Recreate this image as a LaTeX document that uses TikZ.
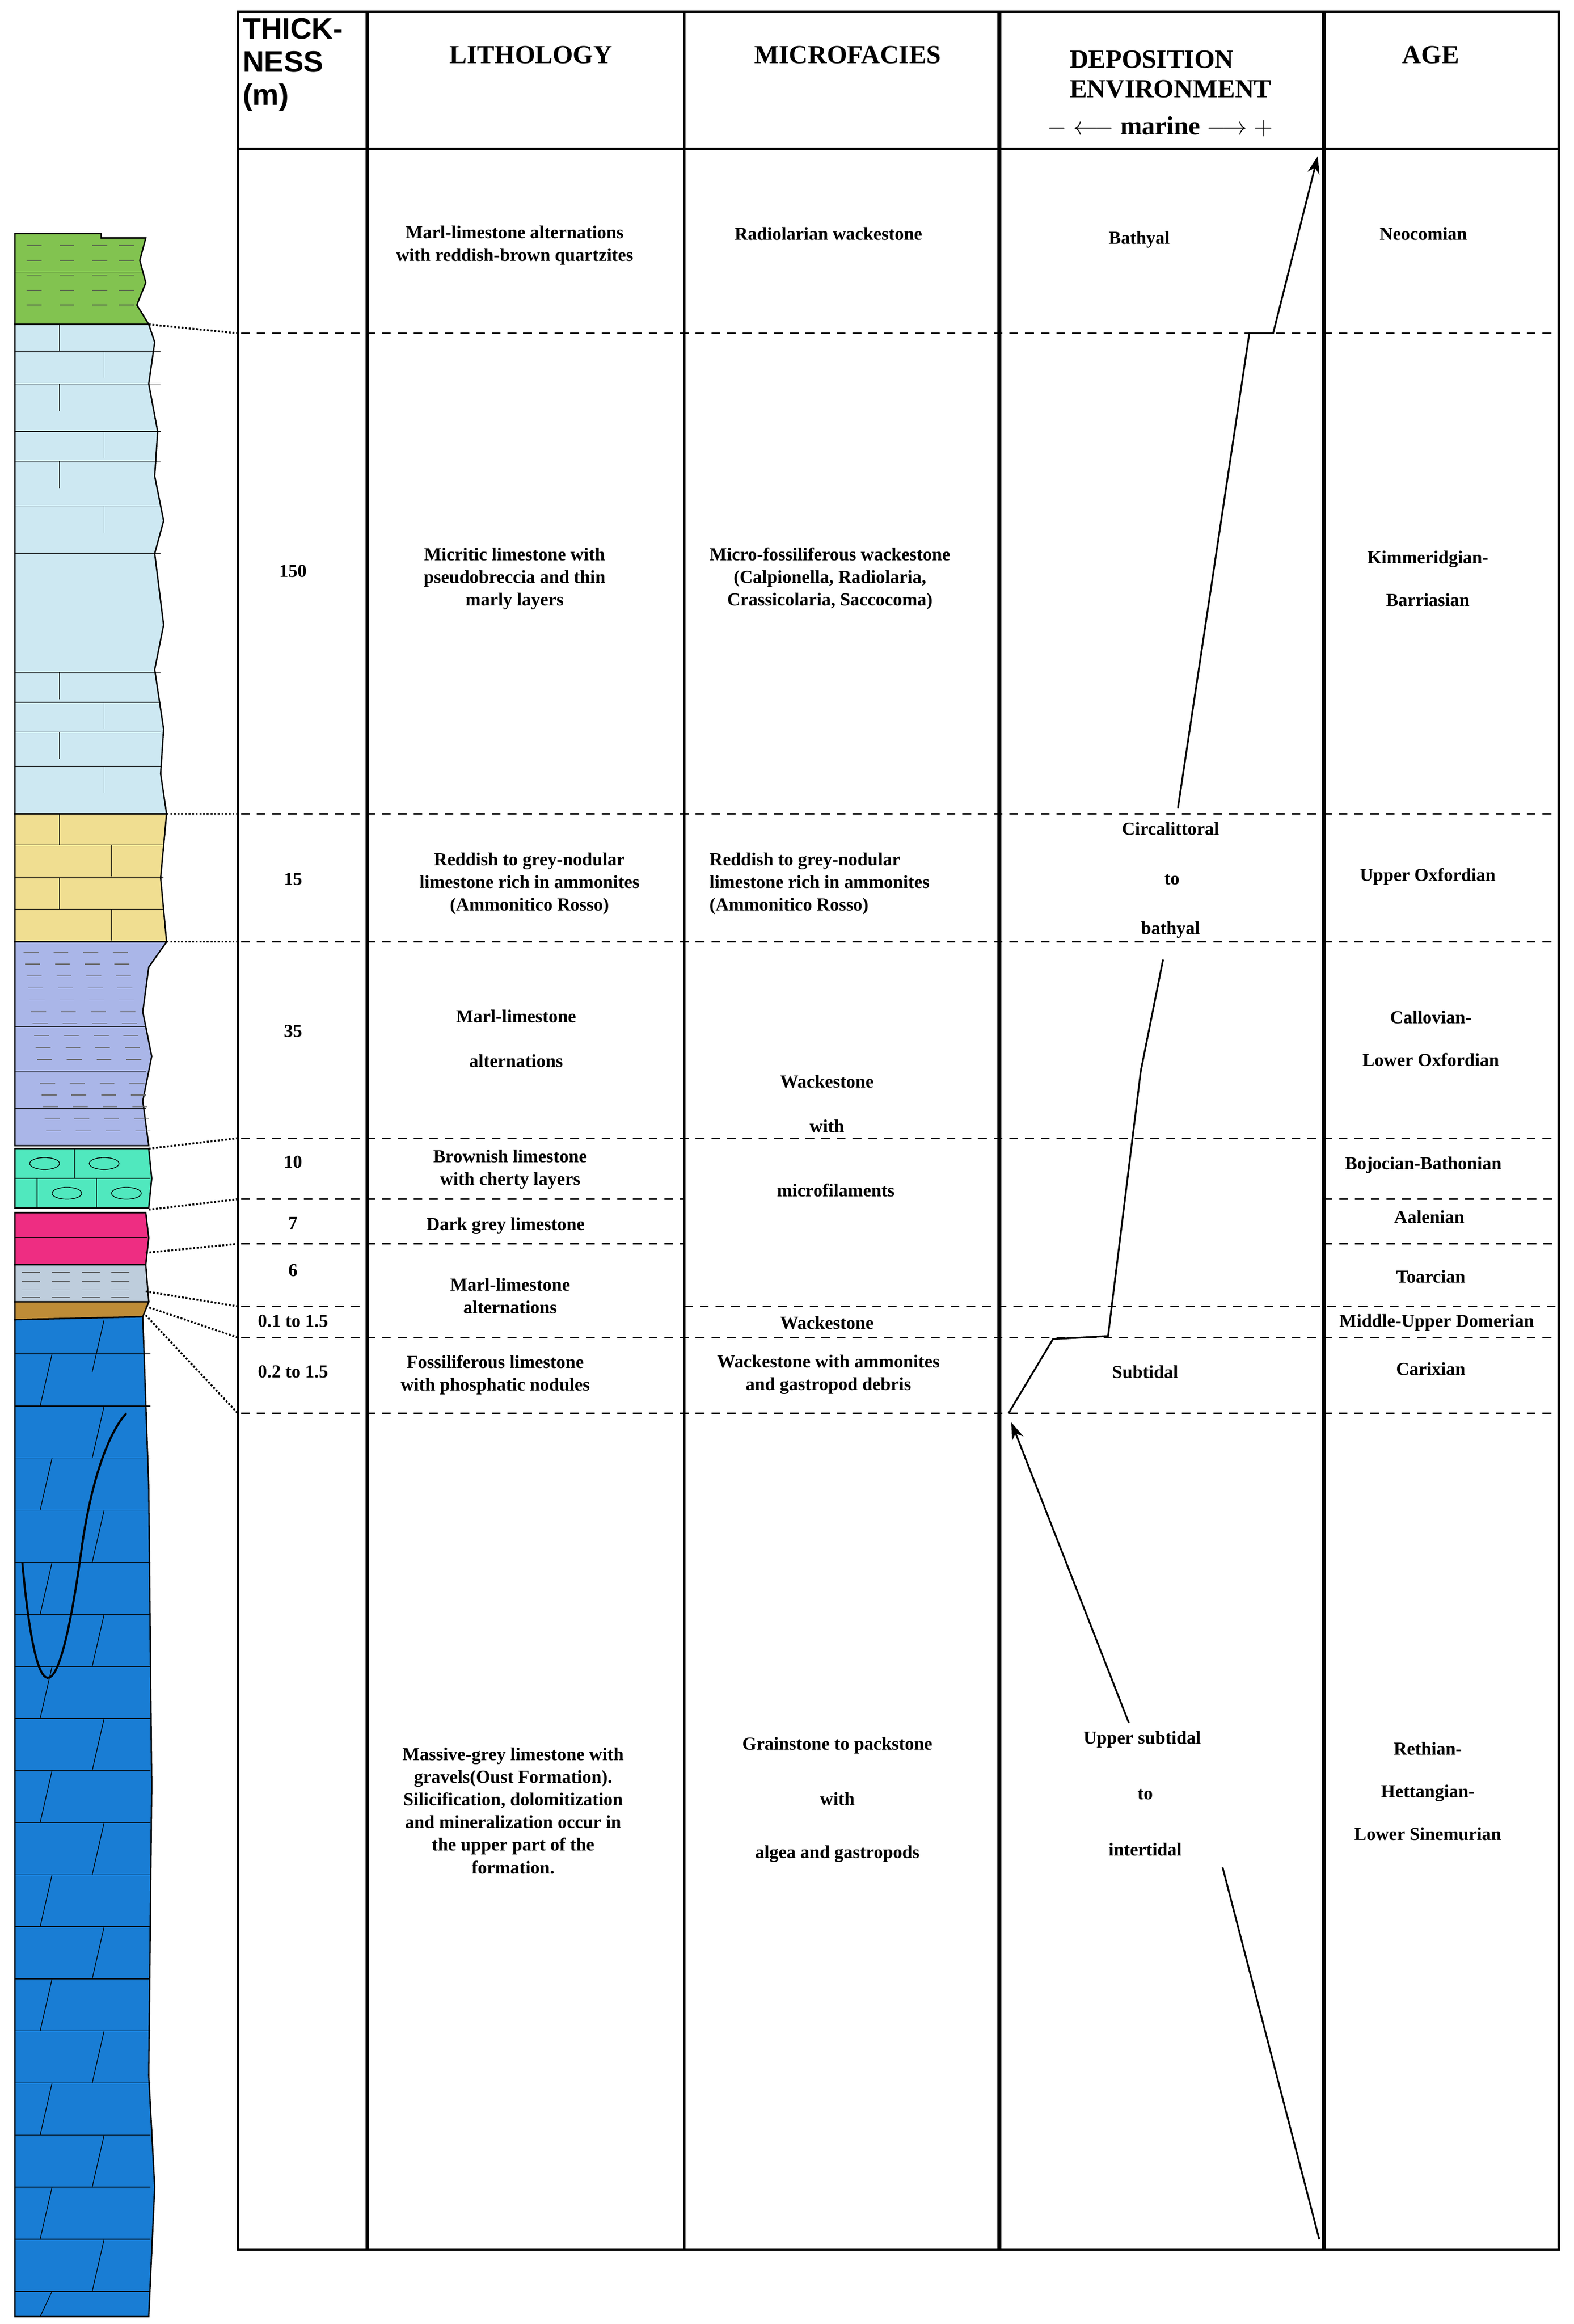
\documentclass[tikz,border=0pt]{standalone}
\usepackage{fontspec}
\setmainfont{Liberation Serif}
\newfontfamily\hs{Liberation Sans}
\usetikzlibrary{arrows.meta}
\definecolor{cgreen}{RGB}{130,195,80}
\definecolor{clblue}{RGB}{205,232,242}
\definecolor{cyel}{RGB}{240,222,145}
\definecolor{cpur}{RGB}{170,182,232}
\definecolor{caqua}{RGB}{80,232,190}
\definecolor{cmag}{RGB}{238,45,130}
\definecolor{cblue}{RGB}{25,125,212}
\definecolor{cbrown}{RGB}{190,140,55}
\definecolor{cgrey}{RGB}{190,205,220}
\tikzset{
 tx/.style={font=\bfseries\fontsize{10.5}{13}\selectfont,align=center,inner sep=1pt},
 hd/.style={font=\bfseries\fontsize{15}{17}\selectfont,align=center},
 dl/.style={dashed,line width=0.9pt,dash pattern=on 5pt off 4pt},
 dt/.style={densely dotted,line width=1.1pt},
 cl/.style={line width=1pt},
 thick2/.style={line width=2.2pt},
 lay/.style={draw=black,line width=0.8pt},
}
\begin{document}
\begin{tikzpicture}[x=0.03cm,y=-0.03cm]
\useasboundingbox (0,0) rectangle (1058,1562);
% ---- stratigraphic column
\fill[cgreen,lay] (10,157) -- (68,157) -- (68,160) -- (98,160) -- (94,175) -- (98,190) -- (92,205) -- (100,218) -- (10,218) -- cycle;
\foreach \y in {165,175,185,195,205} \foreach \x in {18,40,62,80} \draw[black!70] (\x,\y) -- ++(10,0);
\draw (10,183) -- (95,183);
\fill[clblue,lay] (10,218) -- (100,218) -- (104,230) -- (100,258) -- (106,290) -- (104,320) -- (110,350) -- (104,372) -- (110,420) -- (104,450) -- (110,490) -- (108,520) -- (112,547) -- (10,547) -- cycle;
\foreach \y in {236,258,290,310,340,372,452,472,492,515} \draw (10,\y) -- (108,\y);
\foreach \y/\x in {218/40,236/70,258/40,290/70,310/40,340/70,452/40,472/70,492/40,515/70} \draw (\x,\y) -- ++(0,18);
\draw[dashed] (40,258) -- (90,258) (30,372) -- (90,372) (30,452) -- (100,452);
\fill[cyel,lay] (10,547) -- (112,547) -- (108,590) -- (112,633) -- (10,633) -- cycle;
\foreach \y in {568,590,611} \draw (10,\y) -- (110,\y);
\foreach \y/\x in {547/40,568/75,590/40,611/75} \draw (\x,\y) -- ++(0,21);
\fill[cpur,lay] (10,633) -- (112,633) -- (100,650) -- (96,680) -- (102,710) -- (96,740) -- (100,770) -- (10,770) -- cycle;
\foreach \y in {640,648,...,765} \foreach \x in {16,36,56,76} \draw[black!60] (\x+\y/8-80,\y) -- ++(10,0);
\foreach \y in {690,720,745} \draw (10,\y) -- (98,\y);
\fill[caqua,lay] (10,772) -- (100,772) -- (102,792) -- (100,812) -- (10,812) -- cycle;
\draw (10,792) -- (101,792);
\foreach \x/\y in {30/782,70/782,45/802,85/802} \draw (\x,\y) ellipse (10 and 4);
\draw (50,772) -- (50,792) (25,792)--(25,812) (65,792)--(65,812);
\fill[cmag,lay] (10,815) -- (98,815) -- (100,832) -- (98,850) -- (10,850) -- cycle;
\draw (10,832) -- (99,832);
\fill[cgrey,lay] (10,850) -- (98,850) -- (100,875) -- (10,875) -- cycle;
\foreach \y in {855,861,867,872} \foreach \x in {15,35,55,75} \draw[black!70] (\x,\y) -- ++(12,0);
\fill[cbrown,lay] (10,875) -- (100,875) -- (96,885) -- (10,887) -- cycle;
\fill[cblue,lay] (10,887) -- (96,885) -- (100,1000) -- (102,1200) -- (100,1395) -- (104,1470) -- (100,1557) -- (10,1557) -- cycle;
\foreach \y in {910,945,980,1015,1050,1085,1120,1155,1190,1225,1260,1295,1330,1365,1400,1435,1470,1505,1540} \draw (10,\y) -- (101,\y);
\foreach \y [count=\i] in {887,910,945,980,1015,1050,1085,1120,1155,1190,1225,1260,1295,1330,1365,1400,1435,1470,1505,1540}
 {\pgfmathsetmacro\xx{mod(\i,2)==0 ? 35 : 70}\draw (\xx,\y) -- ++(-8,{min(35,1557-\y)});}
\draw[line width=1.2pt] (15,1050) .. controls (25,1160) and (40,1150) .. (55,1040) .. controls (62,990) and (75,960) .. (85,950);
% ---- table
\draw[line width=1.4pt] (160,8) rectangle (1048,1512);
\draw[line width=1.4pt] (160,100) -- (1048,100);
\draw[thick2] (247,8) -- (247,1512) (672,8) -- (672,1512) (890,8) -- (890,1512);
\draw[line width=1.4pt] (460,8) -- (460,1512);
\foreach \y in {224,547,633,765,899,950} \draw[dl] (162,\y) -- (1048,\y);
\foreach \y in {806,836} {\draw[dl] (162,\y) -- (460,\y); \draw[dl] (890,\y) -- (1048,\y);}
\draw[dl] (162,878) -- (247,878); \draw[dl] (460,878) -- (1048,878);
% dotted connectors
\foreach \n/\a/\b/\c in {1/100/218/224,2/112/547/547,3/112/633/633,4/100/772/765,5/100/813/806,6/98/842/836,7/98/868/878,8/98/878/899,9/98/884/950}
 {\coordinate (s\n) at (\a,\b); \coordinate (t\n) at (160,\c); \draw[dt] (s\n) -- (t\n);}
% headers
\node[font=\hs\bfseries\fontsize{17}{19}\selectfont,align=left,anchor=north west,inner sep=0pt] (hth) at (163,12) {THICK-\\NESS\\(m)};
\node[hd] (hli) at (357,37) {LITHOLOGY};
\node[hd] (hmi) at (570,37) {MICROFACIES};
\node[hd,align=left] (hde) at (787,50) {DEPOSITION\\ENVIRONMENT};
\node[hd] (hmar) at (780,85) {$-$ $\longleftarrow$ marine $\longrightarrow$ $+$};
\node[hd] (hag) at (962,37) {AGE};
% thickness
\foreach \n/\y/\t in {a/384/150,b/591/15,c/693/35,d/781/10,e/822/7,f/854/6,g/888/0.1 to 1.5,h/922/0.2 to 1.5} \node[tx] (th\n) at (197,\y) {\t};
% lithology
\node[tx] (l1) at (346,165) {Marl-limestone alternations\\with reddish-brown quartzites};
\node[tx] (l2) at (346,389) {Micritic limestone with\\pseudobreccia and thin\\marly layers};
\node[tx] (l3) at (356,594) {Reddish to grey-nodular\\limestone rich in ammonites\\(Ammonitico Rosso)};
\node[tx,align=center] (l4) at (347,698) {Marl-limestone\\[1.2em]alternations};
\node[tx] (l5) at (343,786) {Brownish limestone\\with cherty layers};
\node[tx] (l6) at (340,824) {Dark grey limestone};
\node[tx] (l7) at (343,871) {Marl-limestone\\alternations};
\node[tx] (l8) at (333,924) {Fossiliferous limestone\\with phosphatic nodules};
\node[tx] (l9) at (345,1217) {Massive-grey limestone with\\gravels(Oust Formation).\\Silicification, dolomitization\\and mineralization occur in\\the upper part of the\\formation.};
% microfacies
\node[tx] (m1) at (557,157) {Radiolarian wackestone};
\node[tx] (m2) at (558,389) {Micro-fossiliferous wackestone\\(Calpionella, Radiolaria,\\Crassicolaria, Saccocoma)};
\node[tx,align=left] (m3) at (551,594) {Reddish to grey-nodular\\limestone rich in ammonites\\(Ammonitico Rosso)};
\node[tx] (m4) at (556,727) {Wackestone};
\node[tx] (m5) at (556,757) {with};
\node[tx] (m6) at (562,800) {microfilaments};
\node[tx] (m7) at (556,889) {Wackestone};
\node[tx] (m8) at (557,924) {Wackestone with ammonites\\and gastropod debris};
\node[tx] (m9) at (563,1173) {Grainstone to packstone};
\node[tx] (m10) at (563,1209) {with};
\node[tx] (m11) at (563,1246) {algea and gastropods};
% deposition
\node[tx] (d1) at (766,161) {Bathyal};
\node[tx] (d2) at (787,557) {Circalittoral};
\node[tx] (d3) at (788,591) {to};
\node[tx] (d4) at (787,625) {bathyal};
\node[tx] (d5) at (770,922) {Subtidal};
\node[tx] (d6) at (768,1169) {Upper subtidal};
\node[tx] (d7) at (770,1206) {to};
\node[tx] (d8) at (770,1243) {intertidal};
% age
\node[tx] (a1) at (957,157) {Neocomian};
\node[tx] (a2) at (960,389) {Kimmeridgian-\\[1.1em]Barriasian};
\node[tx] (a3) at (960,589) {Upper Oxfordian};
\node[tx] (a4) at (962,698) {Callovian-\\[1.1em]Lower Oxfordian};
\node[tx] (a5) at (957,783) {Bojocian-Bathonian};
\node[tx] (a6) at (961,818) {Aalenian};
\node[tx] (a7) at (962,858) {Toarcian};
\node[tx] (a8) at (966,889) {Middle-Upper Domerian};
\node[tx] (a9) at (962,920) {Carixian};
\node[tx] (a10) at (960,1204) {Rethian-\\[1.1em]Hettangian-\\[1.1em]Lower Sinemurian};
% curve
\coordinate (c1) at (792,543); \coordinate (c2) at (840,224); \coordinate (c3) at (856,224); \coordinate (c4) at (886,105);
\draw[cl,-{Stealth[length=10pt,width=7pt]}] (c1) -- (c2) -- (c3) -- (c4);
\coordinate (e1) at (782,645); \coordinate (e2) at (767,720); \coordinate (e3) at (745,898); \coordinate (e4) at (708,900); \coordinate (e5) at (678,950);
\draw[cl] (e1) -- (e2) -- (e3) -- (e4) -- (e5);
\coordinate (f1) at (759,1158); \coordinate (f2) at (680,956);
\draw[cl,-{Stealth[length=10pt,width=7pt]}] (f1) -- (f2);
\coordinate (g1) at (822,1255); \coordinate (g2) at (887,1505);
\draw[cl] (g1) -- (g2);
\end{tikzpicture}
\end{document}
